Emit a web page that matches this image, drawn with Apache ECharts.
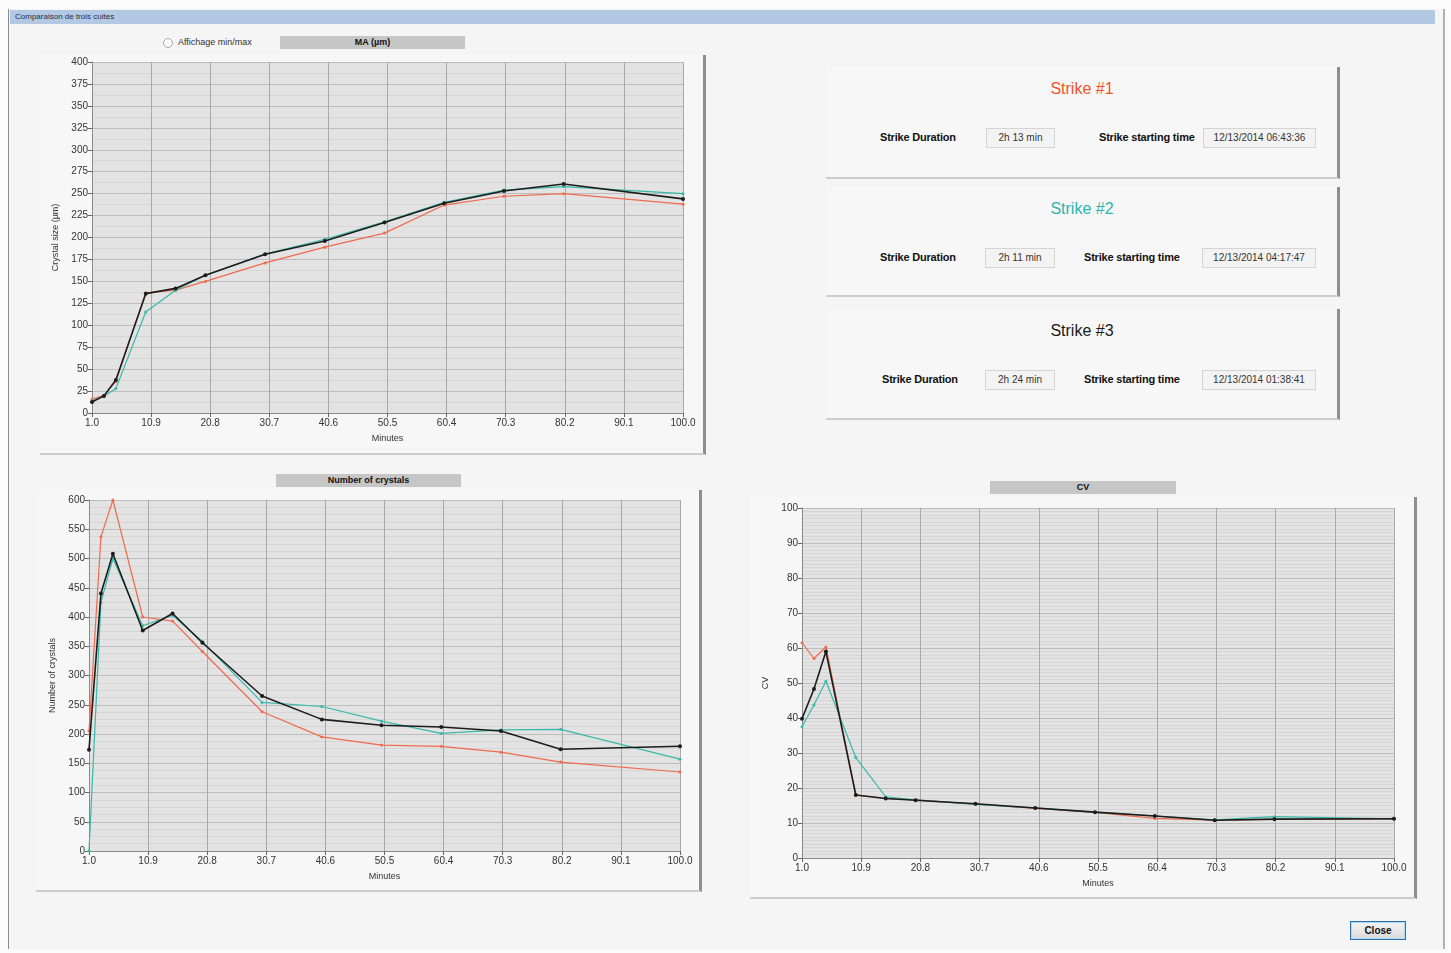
<!DOCTYPE html>
<html>
<head>
<meta charset="utf-8">
<title>Comparaison de trois cuites</title>
<script src="https://cdn.jsdelivr.net/npm/echarts@6/dist/echarts.min.js"></script>
<style>
  body { margin: 0; width: 1451px; height: 953px; background: #fbfbfb; position: relative; overflow: hidden;
         font-family: "Liberation Sans", Arial, sans-serif; color: #111; }
  .abs { position: absolute; }
  .panel { position: absolute; background: #f7f7f7; box-sizing: border-box;
           border-right: 3px solid #8e8e8e; border-bottom: 2px solid #cdcdcd; }
  .tag { position: absolute; height: 13px; background: #c6c6c6; font-size: 9px; font-weight: bold;
         text-align: center; line-height: 13px; }
  .lbl { position: absolute; font-size: 11px; font-weight: bold; letter-spacing: -0.2px; white-space: nowrap; }
  .box { position: absolute; height: 20px; border: 1px solid #d4d4d4; background: #f3f3f3; box-sizing: border-box;
         font-size: 10px; line-height: 18px; text-align: center; color: #333; white-space: nowrap; }
  .strike { position: absolute; left: 0; width: 512px; text-align: center; font-size: 16px; }
</style>
</head>
<body>
<!-- fenetre -->
<div class="abs" style="left:8px; top:9px; width:1434px; height:940px; background:#f5f5f5; border-left:1px solid #8a8a8a; border-right:2px solid #b0b0b0"></div>
<div class="abs" style="left:10px; top:10px; width:1420px; height:14px; background:#b3c8e2; font-size:8px; line-height:14px; padding-left:5px; color:#1d2f4d">Comparaison de trois cuites</div>

<div class="abs" style="left:163px; top:38px; width:8px; height:8px; border:1px solid #aaa; border-radius:50%; background:#fff"></div>
<div class="abs" style="left:178px; top:37px; font-size:9px; color:#333">Affichage min/max</div>
<div class="tag" style="left:280px; top:36px; width:185px">MA (µm)</div>
<div class="tag" style="left:276px; top:474px; width:185px">Number of crystals</div>
<div class="tag" style="left:990px; top:481px; width:186px">CV</div>

<div class="panel" style="left:40px; top:55px; width:666px; height:400px"></div>
<div class="panel" style="left:36px; top:490px; width:666px; height:402px"></div>
<div class="panel" style="left:750px; top:497px; width:667px; height:402px"></div>

<div id="ma" class="abs" style="left:40px; top:55px; width:663px; height:398px"></div>
<div id="nb" class="abs" style="left:36px; top:490px; width:663px; height:400px"></div>
<div id="cv" class="abs" style="left:750px; top:497px; width:664px; height:400px"></div>

<!-- infos des cuites -->
<div class="panel" style="left:826px; top:67px; width:514px; height:112px">
  <div class="strike" style="top:13px; color:#f1532b">Strike #1</div>
  <div class="lbl" style="left:54px; top:64px">Strike Duration</div>
  <div class="box" style="left:160px; top:61px; width:69px">2h 13 min</div>
  <div class="lbl" style="left:273px; top:64px">Strike starting time</div>
  <div class="box" style="left:377px; top:61px; width:113px">12/13/2014 06:43:36</div>
</div>
<div class="panel" style="left:826px; top:187px; width:514px; height:110px">
  <div class="strike" style="top:13px; color:#2db3ad">Strike #2</div>
  <div class="lbl" style="left:54px; top:64px">Strike Duration</div>
  <div class="box" style="left:159px; top:61px; width:70px">2h 11 min</div>
  <div class="lbl" style="left:258px; top:64px">Strike starting time</div>
  <div class="box" style="left:376px; top:61px; width:114px">12/13/2014 04:17:47</div>
</div>
<div class="panel" style="left:826px; top:309px; width:514px; height:111px">
  <div class="strike" style="top:13px; color:#1a1a1a">Strike #3</div>
  <div class="lbl" style="left:56px; top:64px">Strike Duration</div>
  <div class="box" style="left:159px; top:61px; width:70px">2h 24 min</div>
  <div class="lbl" style="left:258px; top:64px">Strike starting time</div>
  <div class="box" style="left:376px; top:61px; width:114px">12/13/2014 01:38:41</div>
</div>

<div class="abs" style="left:1350px; top:921px; width:56px; height:19px; box-sizing:border-box; border:1px solid #2f6ea8;
     box-shadow: inset 0 0 0 1px #a9dcf7; background:linear-gradient(#f4f4f4,#dadada); font-size:10px; font-weight:bold;
     text-align:center; line-height:17px">Close</div>

<script>
// temps (minutes) des points de mesure
const minutes = [1, 3, 5, 10, 15, 20, 30, 40, 50, 60, 70, 80, 100]

// MA (µm)
const maStrike1 = [16, 20, 36, 137, 140, 150, 171, 189, 205, 237, 247, 250, 238]
const maStrike2 = [14, 19, 28, 115, 140, 157, 181, 198, 218, 240, 254, 258, 250]
const maStrike3 = [12.5, 19.5, 37.5, 136, 142, 157, 181, 196, 217, 239, 253, 261, 244]

// Number of crystals
const nbStrike1 = [205, 537, 600, 400, 393, 341, 238, 195, 181, 179, 169, 152, 135]
const nbStrike2 = [0, 425, 500, 385, 403, 358, 254, 247, 222, 201, 207, 208, 157]
const nbStrike3 = [173, 440, 508, 377, 406, 356, 265, 225, 215, 212, 205, 174, 179]

// CV
const cvStrike1 = [61.5, 57, 60.3, 18, 17, 16.6, 15.4, 14.2, 13, 11.3, 10.8, 11, 11.2]
const cvStrike2 = [37.5, 43.7, 50.5, 28.7, 17.5, 16.6, 15.3, 14.3, 13.1, 12, 10.9, 11.8, 11.2]
const cvStrike3 = [39.8, 48.3, 59, 18, 17, 16.5, 15.5, 14.3, 13.1, 12, 10.8, 11.1, 11.2]

// graduations de l'axe des x : 1.0, 10.9 ... 100.0
const xStart = 1
const xStep = 9.9
const xEnd = 100

const colors = ['#ef6a4c', '#38b8aa', '#1c1c1c']

function serie(values, i) {
  return {
    type: 'line',
    // l'axe part de 0 pour que les graduations tombent sur 1.0, 10.9 ...
    data: minutes.map((m, k) => [m - xStart, values[k]]),
    symbol: 'circle',
    symbolSize: i === 2 ? 4 : 3,
    lineStyle: { color: colors[i], width: i === 2 ? 1.6 : 1.2 },
    itemStyle: { color: colors[i] },
    z: 2 + i
  }
}

function option(grid, yName, yMax, yInterval, minorSplit, lists, nameGap) {
  return {
    animation: false,
    grid: Object.assign({ show: true, backgroundColor: '#e3e3e3', borderWidth: 0 }, grid),
    xAxis: {
      type: 'value',
      min: 0,
      max: xEnd - xStart,
      interval: xStep,
      name: 'Minutes',
      nameLocation: 'middle',
      nameGap: 21,
      nameTextStyle: { fontSize: 9, color: '#333' },
      axisLine: { lineStyle: { color: '#8a8a8a' } },
      axisTick: { show: true, length: 4, lineStyle: { color: '#666' } },
      axisLabel: { fontSize: 10, color: '#333', margin: 5, formatter: v => (v + xStart).toFixed(1) },
      splitLine: { show: true, lineStyle: { color: '#a9a9a9', width: 1 } }
    },
    yAxis: {
      type: 'value',
      min: 0,
      max: yMax,
      interval: yInterval,
      name: yName,
      nameLocation: 'middle',
      nameGap: nameGap,
      nameTextStyle: { fontSize: 9, color: '#333' },
      axisLine: { show: true, lineStyle: { color: '#8a8a8a' } },
      axisTick: { show: true, length: 4, lineStyle: { color: '#666' } },
      axisLabel: { fontSize: 10, color: '#333', margin: 4 },
      splitLine: { show: true, lineStyle: { color: '#bdbdbd', width: 1 } },
      minorTick: { show: false, splitNumber: minorSplit },
      minorSplitLine: { show: true, lineStyle: { color: '#d6d6d6', width: 1 } }
    },
    series: lists.map((l, i) => serie(l, i))
  }
}

let maChart = echarts.init(document.getElementById('ma'))
maChart.setOption(option({ left: 52, top: 7, width: 591, height: 351 }, 'Crystal size (µm)', 400, 25, 2,
  [maStrike1, maStrike2, maStrike3], 30))

let nbChart = echarts.init(document.getElementById('nb'))
nbChart.setOption(option({ left: 53, top: 10, width: 591, height: 351 }, 'Number of crystals', 600, 50, 4,
  [nbStrike1, nbStrike2, nbStrike3], 32))

let cvChart = echarts.init(document.getElementById('cv'))
cvChart.setOption(option({ left: 52, top: 11, width: 592, height: 350 }, 'CV', 100, 10, 10,
  [cvStrike1, cvStrike2, cvStrike3], 30))
</script>
</body>
</html>
